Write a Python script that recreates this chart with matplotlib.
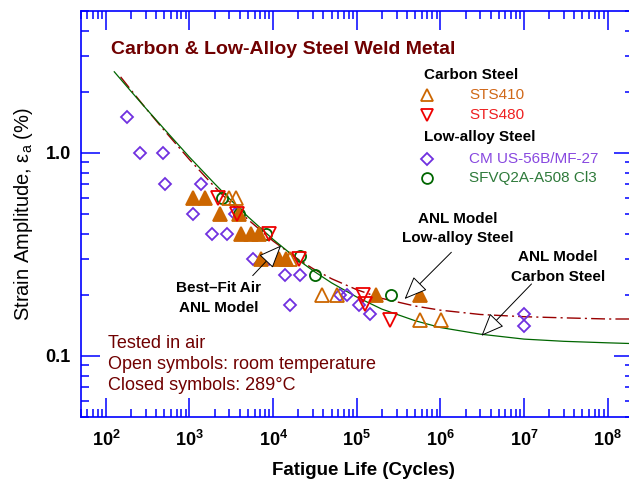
import matplotlib
matplotlib.use('Agg')
import matplotlib.pyplot as plt
from matplotlib.ticker import LogLocator, FixedLocator, FixedFormatter, NullFormatter

plt.rcParams['font.family'] = ['Liberation Sans', 'DejaVu Sans']
plt.rcParams['mathtext.fontset'] = 'custom'
plt.rcParams['mathtext.rm'] = 'Liberation Sans'
plt.rcParams['mathtext.it'] = 'Liberation Sans:italic'
plt.rcParams['mathtext.bf'] = 'Liberation Sans:bold'
plt.rcParams['mathtext.default'] = 'bf'

# %%
# Carbon steel STS410 (open = room temp, closed = 289 C)
sts410_rt_n = [2940, 3560, 16000, 38000, 57500, 575000, 1020000]
sts410_rt_e = [0.6, 0.6, 0.3, 0.2, 0.2, 0.15, 0.15]
sts410_ht_n = [1110, 1545, 2320, 3945, 4170, 5450, 6850, 7180, 11900, 14300, 171000, 565000]
sts410_ht_e = [0.6, 0.6, 0.5, 0.5, 0.4, 0.4, 0.4, 0.3, 0.3, 0.3, 0.2, 0.2]

# Carbon steel STS480 (room temp)
sts480_n = [2175, 3730, 9040, 20300, 118000, 127000, 247000]
sts480_e = [0.6, 0.5, 0.4, 0.3, 0.2, 0.18, 0.15]

# Low-alloy CM US-56B/MF-27
cmus_n = [181, 258, 486, 509, 1374, 1110, 1840, 2780, 3540, 5810, 9040, 13700,
          20700, 16100, 63100, 76600, 107000, 145000, 1.0e7, 1.0e7]
cmus_e = [1.5, 1.0, 1.0, 0.7, 0.7, 0.5, 0.4, 0.4, 0.5, 0.3, 0.3, 0.25,
          0.25, 0.178, 0.2, 0.2, 0.178, 0.16, 0.16, 0.14]

# Low-alloy SFVQ2A-A508 Cl3
sfvq_n = [2450, 3945, 8240, 20700, 31300, 254000]
sfvq_e = [0.6, 0.5, 0.4, 0.31, 0.25, 0.2]

# ANL model curves
cs_model_n = [126, 200, 300, 500, 1e3, 2e3, 3e3, 5e3, 1e4, 2e4, 3e4, 5e4, 1e5, 2e5,
              5e5, 1e6, 3e6, 1e7, 3e7, 1e8, 2e8]
cs_model_e = [2.51, 2.01, 1.66, 1.31, 0.953, 0.705, 0.595, 0.485, 0.375, 0.297, 0.263,
              0.229, 0.195, 0.170, 0.149, 0.138, 0.128, 0.121, 0.118, 0.116, 0.115]
las_model_n = [150, 200, 300, 500, 1e3, 2e3, 3e3, 5e3, 1e4, 2e4, 3e4, 5e4, 1e5, 2e5,
               5e5, 1e6, 3e6, 1e7, 3e7, 1e8, 2e8]
las_model_e = [2.37, 2.04, 1.66, 1.29, 0.927, 0.680, 0.574, 0.470, 0.368, 0.299, 0.269,
               0.240, 0.212, 0.192, 0.176, 0.168, 0.160, 0.156, 0.154, 0.152, 0.152]

x_major = [1e2, 1e3, 1e4, 1e5, 1e6, 1e7, 1e8]

# %%
blue = '#0000FF'
c_orange = '#CC6600'
c_red = '#EE0000'
c_purple = '#7030E0'
c_green = '#006600'
c_maroon = '#700000'

fig = plt.figure(figsize=(6.29, 4.84), dpi=100)
ax = fig.add_axes([0.1283, 0.1384, 0.8777, 0.8388])

ax.plot(las_model_n, las_model_e, color='#990000', lw=1.0, dashes=(10, 3, 1.5, 3))
ax.plot(cs_model_n, cs_model_e, color=c_green, lw=0.9)

mk = dict(linestyle='none', mew=1.3)
ax.plot(cmus_n, cmus_e, 'D', ms=6.1, mfc='none', mec=c_purple, **mk)
ax.plot(sfvq_n, sfvq_e, 'o', ms=8, mfc='none', mec=c_green, **mk)
ax.plot(sts410_ht_n, sts410_ht_e, '^', ms=9.4, mfc=c_orange, mec=c_orange, **mk)
ax.plot(sts410_rt_n, sts410_rt_e, '^', ms=9.4, mfc='none', mec=c_orange, **mk)
ax.plot(sts480_n, sts480_e, 'v', ms=9.4, mfc='none', mec=c_red, **mk)

ax.set_xscale('log')
ax.set_yscale('log')
ax.set_xlim(50, 2e8)
ax.set_ylim(0.05, 5)

# Axis ticks
ax.xaxis.set_major_locator(FixedLocator(x_major))
ax.xaxis.set_major_formatter(FixedFormatter([r'$10^{%d}$' % k for k in range(2, 9)]))
ax.xaxis.set_minor_locator(LogLocator(base=10, subs=range(2, 10), numticks=20))
ax.xaxis.set_minor_formatter(NullFormatter())
ax.yaxis.set_major_locator(FixedLocator([0.1, 1.0]))
ax.yaxis.set_major_formatter(FixedFormatter(['0.1', '1.0']))
ax.yaxis.set_minor_locator(LogLocator(base=10, subs=range(2, 10), numticks=20))
ax.yaxis.set_minor_formatter(NullFormatter())

ax.tick_params(which='both', direction='in', top=True, right=True, color=blue)
ax.tick_params(which='major', length=13.7, width=1.1, labelsize=13, pad=7)
ax.tick_params(which='minor', length=6, width=1.1)
ax.tick_params(axis='x', which='major', pad=9)
for lab in ax.get_xticklabels() + ax.get_yticklabels():
    lab.set_fontweight('bold')
for sp in ax.spines.values():
    sp.set_color(blue)
    sp.set_linewidth(1.2)

ax.set_xlabel('Fatigue Life (Cycles)', fontsize=13.5, fontweight='bold')
ax.xaxis.set_label_coords(0.512, -0.111)
ax.set_ylabel(r'Strain Amplitude, $\mathrm{\varepsilon_a}$ (%)', fontsize=14.5)
ax.yaxis.set_label_coords(-0.083, 0.5)

# Title and notes
ax.text(0.0547, 0.906, 'Carbon & Low-Alloy Steel Weld Metal', transform=ax.transAxes,
        fontsize=14, fontweight='bold', color=c_maroon, va='center')
notes = ['Tested in air', 'Open symbols: room temperature', 'Closed symbols: 289°C']
for txt, yy in zip(notes, [0.1815, 0.1298, 0.0788]):
    ax.text(0.05, yy, txt, transform=ax.transAxes, fontsize=13, color=c_maroon, va='center')

# Legend (drawn by hand)
lx_mk, lx_txt, lx_head = 0.628, 0.7039, 0.6218
ax.text(lx_head, 0.8424, 'Carbon Steel', transform=ax.transAxes, fontsize=11,
        fontweight='bold', va='center')
ax.text(lx_head, 0.6904, 'Low-alloy Steel', transform=ax.transAxes, fontsize=11,
        fontweight='bold', va='center')
legend_rows = [
    ('^', 0.7931, c_orange, 'STS410', '#D06818', 9),
    ('v', 0.7438, c_red, 'STS480', '#EE2020', 9),
    ('D', 0.6355, c_purple, 'CM US-56B/MF-27', '#8848E0', 6),
    ('o', 0.5879, c_green, 'SFVQ2A-A508 Cl3', '#2E7A3A', 7.8),
]
for m, yy, mc, label, tc, ms in legend_rows:
    ax.plot([lx_mk], [yy], m, ms=ms, mfc='none', mec=mc, mew=1.3,
            transform=ax.transAxes, clip_on=False)
    ax.text(lx_txt, yy, label, transform=ax.transAxes, fontsize=11, color=tc, va='center')

# Model annotations
arrow = dict(arrowstyle='-|>,head_length=1.45,head_width=0.6', fc='white', ec='black',
             lw=0.7, mutation_scale=10, shrinkA=0, shrinkB=0)
ax.annotate('', xy=(12470, 0.350), xytext=(5700, 0.2486), arrowprops=arrow)
ax.annotate('', xy=(373600, 0.1907), xytext=(1.354e6, 0.324), arrowprops=arrow)
ax.annotate('', xy=(3.10e6, 0.1256), xytext=(1.23e7, 0.2262), arrowprops=arrow)

labels = [
    (0.2505, 0.3177, 'Best\u2013Fit Air'), (0.2505, 0.2685, 'ANL Model'),
    (0.6834, 0.4869, 'ANL Model'), (0.6834, 0.4401, 'Low-alloy Steel'),
    (0.8645, 0.3933, 'ANL Model'), (0.8645, 0.3456, 'Carbon Steel'),
]
for xx, yy, txt in labels:
    ax.text(xx, yy, txt, transform=ax.transAxes, fontsize=11, fontweight='bold',
            ha='center', va='center')

fig.savefig('out.png', dpi=100)
